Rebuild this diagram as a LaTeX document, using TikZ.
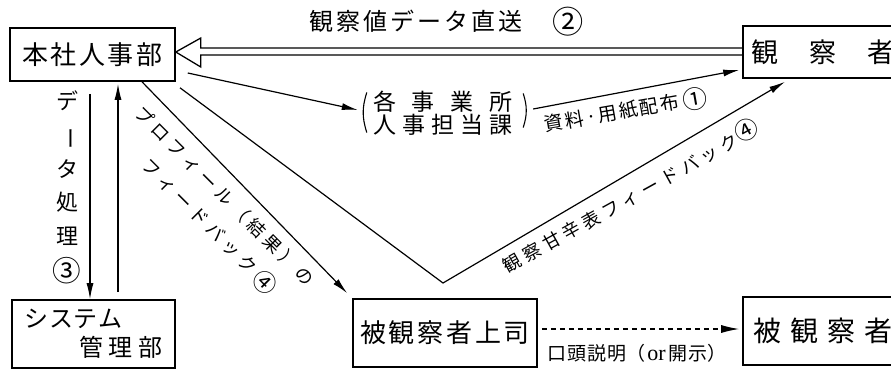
\documentclass[tikz,border=0pt]{standalone}
\usepackage{fontspec}
\usepackage{graphicx}
\setmainfont{Noto Sans CJK JP}
\newfontfamily\latinserif{Liberation Serif}
\usetikzlibrary{arrows.meta,calc}
\makeatletter
\newcommand\tracked[2]{\def\trk@amt{#1}\trk@first#2\relax}
\def\trk@first#1{\ifx\relax#1\else#1\expandafter\trk@next\fi}
\def\trk@next#1{\ifx\relax#1\else\kern\trk@amt\relax#1\expandafter\trk@next\fi}
\makeatother
\newcommand\cnum[2][-0.15em]{\raisebox{#1}{\scalebox{1.3}{#2}}}
\begin{document}
\begin{tikzpicture}[x=1pt,y=-1pt,
  box/.style={draw,line width=1.6pt,inner sep=0pt},
  arr/.style={line width=1.2pt,-{Latex[length=16pt,width=7pt]}},
  lbl/.style={inner sep=0pt}]
\useasboundingbox (0,0) rectangle (891,370);
\fill[white] (0,0) rectangle (891,370);
\clip (0,0) rectangle (891,370);

% boxes
\node[box,minimum width=165pt,minimum height=53pt,font=\fontsize{26}{26}\selectfont] (hq) at (92.5,54.5) {\tracked{2.5pt}{本社人事部}};
\node[box,minimum width=160pt,minimum height=52pt,font=\fontsize{27}{27}\selectfont] (obs) at (823,52) {\tracked{31pt}{観察者}};
\node[box,minimum width=163pt,minimum height=68pt,align=center,font=\fontsize{24}{29}\selectfont] (sys) at (93.5,334) {\makebox[138pt][l]{\tracked{0.7pt}{システム}}\\\makebox[138pt][r]{\tracked{5.5pt}{管理部}}};
\node[box,minimum width=184pt,minimum height=68pt,font=\fontsize{26}{26}\selectfont] (boss) at (445,333) {\tracked{2.8pt}{被観察者上司}};
\node[box,minimum width=160pt,minimum height=68pt,font=\fontsize{28}{28}\selectfont] (obsd) at (823,331) {\tracked{9pt}{被観察者}};
\node[lbl,align=center,font=\fontsize{23}{23}\selectfont] (dept) at (443,113.5) {\makebox[140pt]{各\hfill 事\hfill 業\hfill 所}\\\tracked{6.25pt}{人事担当課}};
\draw[line width=1.1pt] ([xshift=-6pt,yshift=21pt]dept.west) to[bend right=18] ([xshift=-6pt,yshift=-19pt]dept.west);
\draw[line width=1.1pt] ([xshift=10pt,yshift=20pt]dept.east) to[bend left=18] ([xshift=10pt,yshift=-14pt]dept.east);

% labels
\node[lbl,font=\fontsize{24}{24}\selectfont] (ttl) at (447,22) {\tracked{3pt}{観察値データ直送}\hspace{30pt}\cnum{②}};
\node[lbl,align=center,font=\fontsize{22}{33.8}\selectfont] (dlbl) at (67,187.5) {デ\\\rotatebox[origin=c]{-90}{ー}\\タ\\処\\理\\\cnum{③}};
\node[lbl,rotate=10,font=\fontsize{19}{19}\selectfont] (l1) at (626,111) {\tracked{2pt}{資料·用紙配布}\kern4pt\cnum{①}};
\node[lbl,rotate=29,font=\fontsize{18}{18}\selectfont] (l2) at (630,195) {\tracked{4.5pt}{観察甘辛表フィードバック}\kern1pt\cnum[0.05em]{④}};
\node[lbl,rotate=-45,align=center,font=\fontsize{18}{32}\selectfont] (l3) at (212,208) {\tracked{4.6pt}{プロフィール（結果）の}\\\hspace*{22pt}\tracked{4.6pt}{フィードバック}\kern4pt\cnum{④}};
\node[lbl,font=\fontsize{19}{19}\selectfont] (l4) at (637,353) {\tracked{1pt}{口頭説明}（\kern2pt{\latinserif\fontsize{22}{22}\selectfont or}\kern3pt\tracked{1pt}{開示}）};

% connectors
\draw[line width=1.3pt] ([yshift=4pt]obs.west) -- ([xshift=25pt,yshift=6.5pt]hq.east) -- ([xshift=25pt,yshift=16.5pt]hq.east) -- ([yshift=2.5pt]hq.east) -- ([xshift=25pt,yshift=-12.5pt]hq.east) -- ([xshift=25pt,yshift=-0.5pt]hq.east) -- ([yshift=-3pt]obs.west);
\draw[arr] ([xshift=12pt,yshift=-18.5pt]hq.east) -- ([xshift=-15pt,yshift=3.5pt]dept.west);
\draw[arr] ([xshift=20pt,yshift=4.5pt]dept.east) -- ([xshift=-3pt,yshift=-18pt]obs.west);
\coordinate (v) at (443,283);
\draw[arr] ([xshift=87.5pt,yshift=-6pt]hq.south) -- (v) -- ([xshift=-38pt,yshift=-3pt]obs.south);
\draw[arr] ([xshift=49.5pt]hq.south) -- ([xshift=-5pt,yshift=5pt]boss.north west);
\draw[arr] ([xshift=-2.5pt,yshift=-12pt]hq.south) -- ([xshift=-3.5pt]sys.north);
\draw[arr] ([xshift=24.5pt,yshift=7pt]sys.north) -- ([xshift=25.5pt,yshift=-2pt]hq.south);
\draw[line width=1.2pt,dash pattern=on 5pt off 4pt,-{Latex[length=18pt,width=8pt]}] ([xshift=4pt,yshift=4pt]boss.east) -- ([xshift=-3pt,yshift=2pt]obsd.west);
\end{tikzpicture}
\end{document}
